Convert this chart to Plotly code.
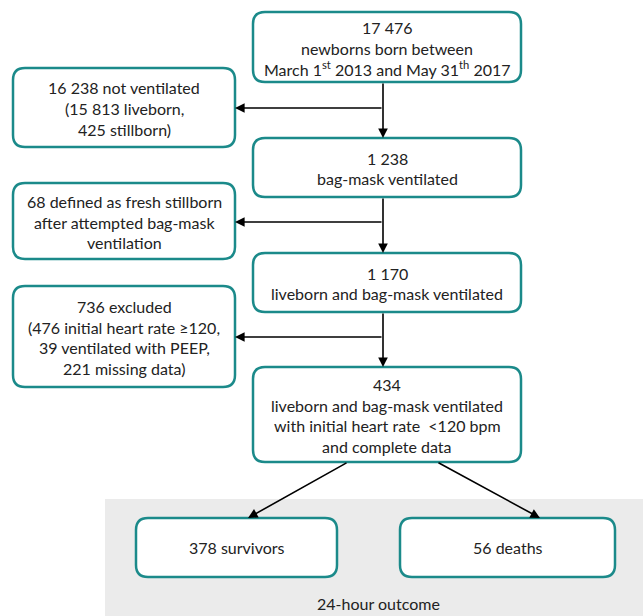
import plotly.graph_objects as go

# ---- content (text) ----
box_texts = [
    "17 476<br>newborns born between<br>March 1<sup>st</sup> 2013 and May 31<sup>th</sup> 2017",
    "16 238 not ventilated<br>(15 813 liveborn,<br>425 stillborn)",
    "1 238<br>bag-mask ventilated",
    "68 defined as fresh stillborn<br>after attempted bag-mask<br>ventilation",
    "1 170<br>liveborn and bag-mask ventilated",
    "736 excluded<br>(476 initial heart rate ≥120,<br>39 ventilated with PEEP,<br>221 missing data)",
    "434<br>liveborn and bag-mask ventilated<br>with initial heart rate  &lt;120 bpm<br>and complete data",
    "378 survivors",
    "56 deaths",
]
outcome_label = "24-hour outcome"

# ---- layout geometry (pixels) ----
boxes = [  # x0, y0, x1, y1
    (253, 12, 521, 82),
    (13, 68, 235, 147),
    (253, 138, 521, 197),
    (13, 183, 235, 259),
    (253, 253, 521, 312),
    (13, 286, 235, 387),
    (253, 367, 521, 462),
    (136, 518, 337, 577),
    (400, 518, 615, 577),
]

W, H = 643, 616
TEAL = "#1b8a8a"
FONT = dict(family="Lato", size=16, color="#222222")
LINE = 20.7

def rounded(x0, y0, x1, y1, r=12):
    return (f"M{x0+r},{y0} L{x1-r},{y0} Q{x1},{y0} {x1},{y0+r} "
            f"L{x1},{y1-r} Q{x1},{y1} {x1-r},{y1} L{x0+r},{y1} "
            f"Q{x0},{y1} {x0},{y1-r} L{x0},{y0+r} Q{x0},{y0} {x0+r},{y0} Z")

fig = go.Figure()
shapes = []
annotations = []

# gray outcome region
shapes.append(dict(type="rect", x0=105, y0=499, x1=W, y1=H, xref="x", yref="y",
                   fillcolor="#ebebeb", line=dict(width=0), layer="below"))

for (x0, y0, x1, y1), txt in zip(boxes, box_texts):
    shapes.append(dict(type="path", path=rounded(x0, y0, x1, y1), xref="x", yref="y",
                       fillcolor="white", line=dict(color=TEAL, width=2.5)))
    lines = txt.split("<br>")
    n = len(lines)
    cy = (y0 + y1) / 2 + (1 if n > 1 else 0)
    for i, ln in enumerate(lines):
        annotations.append(dict(x=(x0 + x1) / 2, y=cy + (i - (n - 1) / 2) * LINE,
                                xref="x", yref="y", text=ln, showarrow=False, font=FONT,
                                xanchor="center", yanchor="middle", align="center"))

cx = 383

def arrow(x, y, ax, ay):
    annotations.append(dict(x=x, y=y, ax=ax, ay=ay, xref="x", yref="y",
                            axref="x", ayref="y", text="", showarrow=True,
                            arrowhead=2, arrowsize=1.2, arrowwidth=1.6,
                            arrowcolor="black"))

for (top, bot) in [(82, 138), (197, 253), (312, 367)]:
    arrow(cx, bot, cx, top)

for y in [108, 222, 337]:
    arrow(235, y, cx, y)

arrow(248, 518, 348, 462)
arrow(540, 518, 437, 462)

annotations.append(dict(x=378, y=603, xref="x", yref="y", text=outcome_label,
                        showarrow=False, font=FONT, xanchor="center", yanchor="middle"))

fig.update_layout(
    width=W, height=H, margin=dict(l=0, r=0, t=0, b=0),
    paper_bgcolor="white", plot_bgcolor="white",
    xaxis=dict(range=[0, W], visible=False, fixedrange=True),
    yaxis=dict(range=[H, 0], visible=False, fixedrange=True),
    shapes=shapes, annotations=annotations, showlegend=False,
)

fig.write_html("out.html", config={"displayModeBar": False},
               post_script="document.body.style.margin='0';document.body.style.overflow='hidden';")
